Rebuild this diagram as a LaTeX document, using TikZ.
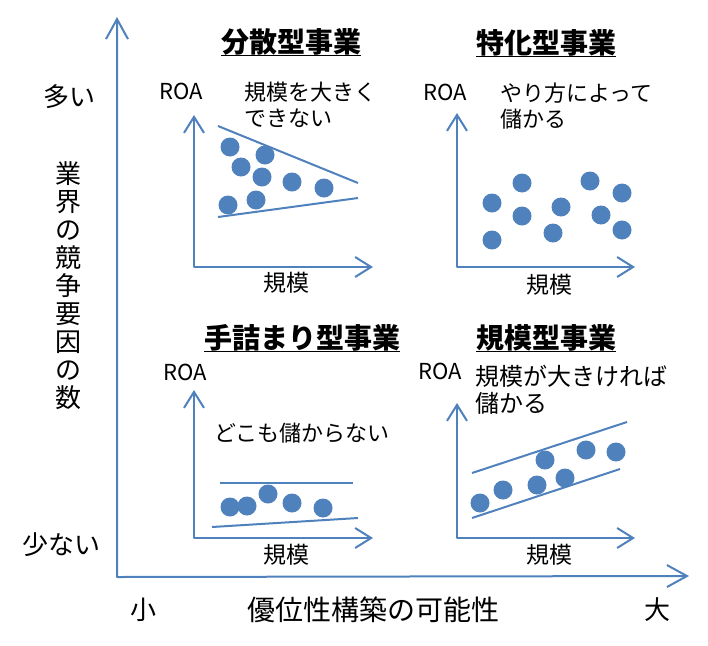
\documentclass[tikz,border=0pt]{standalone}
\usepackage{fontspec}
\setmainfont{Noto Sans CJK JP}
\usepackage{tikz}
\usetikzlibrary{arrows.meta, positioning}
\definecolor{axisblue}{HTML}{4F81BD}

\begin{document}
\begin{tikzpicture}[x=1pt, y=-1pt,
    bigaxis/.style={draw=axisblue, line width=2pt, line join=round,
      {Straight Barb[length=20pt, width=22pt]}-{Straight Barb[length=20pt, width=22pt]}},
    smallaxis/.style={draw=axisblue, line width=2pt, line join=round,
      {Straight Barb[length=16pt, width=20pt]}-{Straight Barb[length=16pt, width=20pt]}},
    trend/.style={draw=axisblue, line width=2pt},
    dot/.style={fill=axisblue},
    sidetext/.style={font=\fontsize{26}{28}\selectfont, inner sep=0pt},
    title/.style={font=\fontsize{28}{30}\selectfont\bfseries, inner sep=0pt},
    uline/.style={draw=black, line width=1.6pt},
    roa/.style={font=\fontsize{22}{24}\selectfont, inner sep=0pt},
    note/.style={font=\fontsize{22}{26}\selectfont, inner sep=0pt, align=left},
    scale label/.style={font=\fontsize{23}{25}\selectfont, inner sep=0pt}]
  \useasboundingbox (0,0) rectangle (708,645);

  % main axes
  \coordinate (org) at (117,577);
  \coordinate (ytip) at (117,17);
  \coordinate (xtip) at (689,576);
  \draw[bigaxis] (ytip) -- (org) -- (xtip);
  \node[sidetext] (many) at (69,97) {多い};
  \node[sidetext, align=center] (ylabel) at (68,286) {業\\界\\の\\競\\争\\要\\因\\の\\数};
  \node[sidetext] (few) at (61,545) {少ない};
  \node[sidetext] (small) at (143,610) {小};
  \node[sidetext, font=\fontsize{28}{30}\selectfont] (xlabel) at (373,610) {優位性構築の可能性};
  \node[sidetext] (large) at (657,610) {大};

  % top left
  \node[title] (t1) at (291,42) {分散型事業};
  \draw[uline] (t1.south west) -- (t1.south east);
  \node[roa] (roa1) at (181,91) {ROA};
  \node[note, anchor=west] (n1) at (244,105) {規模を大きく\\できない};
  \draw[smallaxis] (194,115) -- (194,267) -- (373,267);
  \node[scale label] (s1) at (286,283) {規模};
  \draw[trend] (218,126) -- (358,183);
  \draw[trend] (218,217) -- (358,198);
  \foreach \p in {(230,147),(265,155),(241,167),(262,177),(292,182),(324,188),(228,205),(256,200)}
    \fill[dot] \p circle (9.5);

  % top right
  \node[title] (t2) at (546,43) {特化型事業};
  \draw[uline] (t2.south west) -- (t2.south east);
  \node[roa] (roa2) at (445,92) {ROA};
  \node[note, anchor=west] (n2) at (500,106) {やり方によって\\儲かる};
  \draw[smallaxis] (457,113) -- (457,267) -- (635,267);
  \node[scale label] (s2) at (549,285) {規模};
  \foreach \p in {(492,203),(522,183),(522,216),(492,240),(561,207),(553,233),(590,181),(622,193),(601,215),(622,230)}
    \fill[dot] \p circle (9.5);

  % bottom left
  \node[title] (t3) at (302,338) {手詰まり型事業};
  \draw[uline] (t3.south west) -- (t3.south east);
  \node[roa] (roa3) at (185,372) {ROA};
  \node[note] (n3) at (302,433) {どこも儲からない};
  \draw[smallaxis] (194,390) -- (194,538) -- (373,538);
  \node[scale label] (s3) at (286,555) {規模};
  \draw[trend] (220,483) -- (353,483);
  \draw[trend] (212,527) -- (358,518);
  \foreach \p in {(230,507),(247,506),(268,494),(292,503),(323,508)}
    \fill[dot] \p circle (9.5);

  % bottom right
  \node[title] (t4) at (546,338) {規模型事業};
  \draw[uline] (t4.south west) -- (t4.south east);
  \node[roa] (roa4) at (440,371) {ROA};
  \node[note, anchor=west, font=\fontsize{24}{27}\selectfont] (n4) at (475,390) {規模が大きければ\\儲かる};
  \draw[smallaxis] (457,403) -- (457,538) -- (635,538);
  \node[scale label] (s4) at (549,555) {規模};
  \draw[trend] (472,473) -- (627,422);
  \draw[trend] (472,518) -- (620,469);
  \foreach \p in {(480,503),(503,490),(537,485),(545,460),(565,478),(586,450),(616,452)}
    \fill[dot] \p circle (9.5);
\end{tikzpicture}
\end{document}
